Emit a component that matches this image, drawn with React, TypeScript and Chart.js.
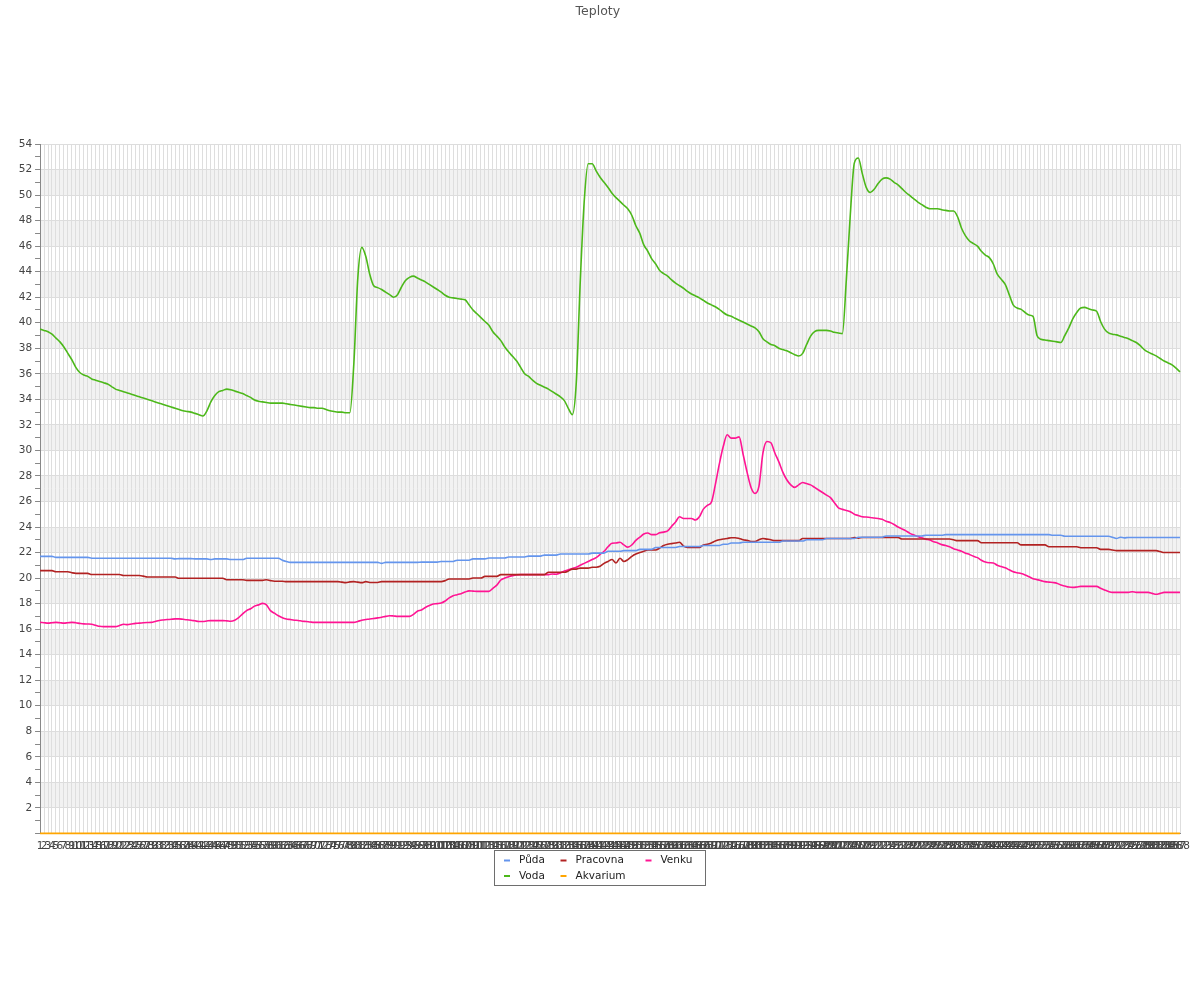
import React, { useEffect, useRef } from "react";
import { Chart, registerables } from "chart.js";

Chart.register(...registerables);

// ---------- DATA ----------
const TITLE = "Teploty";

const labels: string[] = Array.from({ length: 288 }, (_, i) => String(i + 1));

const seriesNames = ["Půda", "Voda", "Pracovna", "Akvarium", "Venku"];
const seriesColors = ["#6495ed", "#4cb81a", "#b22222", "#ffa500", "#ff1493"];

const puda: number[] = [
  21.7, 21.7, 21.7, 21.7, 21.62, 21.62, 21.62, 21.62, 21.62, 21.62,
  21.62, 21.62, 21.62, 21.55, 21.55, 21.55, 21.55, 21.55, 21.55, 21.55,
  21.55, 21.55, 21.55, 21.55, 21.55, 21.55, 21.55, 21.55, 21.55, 21.55,
  21.55, 21.55, 21.55, 21.55, 21.5, 21.52, 21.52, 21.52, 21.52, 21.5,
  21.5, 21.5, 21.5, 21.45, 21.5, 21.5, 21.5, 21.5, 21.45, 21.45,
  21.45, 21.45, 21.55, 21.55, 21.55, 21.55, 21.55, 21.55, 21.55, 21.55,
  21.55, 21.4, 21.3, 21.23, 21.23, 21.23, 21.23, 21.23, 21.23, 21.23,
  21.23, 21.23, 21.23, 21.23, 21.23, 21.23, 21.23, 21.23, 21.23, 21.23,
  21.23, 21.23, 21.23, 21.23, 21.23, 21.23, 21.15, 21.23, 21.23, 21.23,
  21.23, 21.23, 21.23, 21.23, 21.23, 21.23, 21.25, 21.25, 21.25, 21.25,
  21.25, 21.3, 21.3, 21.3, 21.3, 21.4, 21.4, 21.4, 21.4, 21.5,
  21.5, 21.5, 21.5, 21.57, 21.57, 21.57, 21.57, 21.57, 21.65, 21.65,
  21.65, 21.65, 21.65, 21.72, 21.72, 21.72, 21.72, 21.8, 21.8, 21.8,
  21.8, 21.88, 21.88, 21.88, 21.88, 21.88, 21.88, 21.88, 21.88, 21.95,
  21.95, 21.95, 21.95, 22.1, 22.1, 22.1, 22.1, 22.15, 22.15, 22.15,
  22.15, 22.25, 22.25, 22.25, 22.25, 22.4, 22.4, 22.4, 22.4, 22.4,
  22.4, 22.47, 22.47, 22.47, 22.47, 22.47, 22.47, 22.55, 22.55, 22.55,
  22.55, 22.55, 22.65, 22.65, 22.75, 22.75, 22.75, 22.8, 22.8, 22.8,
  22.8, 22.8, 22.8, 22.8, 22.8, 22.8, 22.8, 22.9, 22.9, 22.9,
  22.9, 22.9, 22.9, 23.0, 23.0, 23.0, 23.0, 23.0, 23.1, 23.1,
  23.1, 23.1, 23.1, 23.1, 23.1, 23.1, 23.2, 23.2, 23.2, 23.2,
  23.2, 23.2, 23.2, 23.3, 23.3, 23.3, 23.3, 23.3, 23.3, 23.3,
  23.3, 23.3, 23.3, 23.35, 23.35, 23.35, 23.35, 23.35, 23.4, 23.4,
  23.4, 23.4, 23.4, 23.4, 23.4, 23.4, 23.4, 23.4, 23.4, 23.4,
  23.4, 23.4, 23.4, 23.4, 23.4, 23.4, 23.4, 23.4, 23.4, 23.4,
  23.4, 23.4, 23.4, 23.4, 23.4, 23.35, 23.35, 23.35, 23.27, 23.27,
  23.27, 23.27, 23.27, 23.27, 23.27, 23.27, 23.27, 23.27, 23.27, 23.27,
  23.2, 23.1, 23.2, 23.15, 23.18, 23.18, 23.18, 23.18, 23.18, 23.18,
  23.18, 23.18, 23.18, 23.18, 23.18, 23.18, 23.18, 23.18,
];

const voda: number[] = [
  39.5, 39.4, 39.3, 39.1, 38.8, 38.5, 38.1, 37.6, 37.1, 36.5,
  36.1, 35.9, 35.8, 35.6, 35.5, 35.4, 35.3, 35.2, 35.0, 34.8,
  34.7, 34.6, 34.5, 34.4, 34.3, 34.2, 34.1, 34.0, 33.9, 33.8,
  33.7, 33.6, 33.5, 33.4, 33.3, 33.2, 33.1, 33.05, 33.0, 32.9,
  32.8, 32.7, 33.1, 33.8, 34.3, 34.6, 34.7, 34.8, 34.75, 34.65,
  34.55, 34.45, 34.3, 34.15, 33.95, 33.85, 33.8, 33.75, 33.7, 33.7,
  33.7, 33.7, 33.65, 33.6, 33.55, 33.5, 33.45, 33.4, 33.35, 33.35,
  33.3, 33.3, 33.2, 33.1, 33.05, 33.0, 33.0, 32.95, 32.95, 36.8,
  43.5, 45.9, 45.2, 43.8, 42.9, 42.75, 42.6, 42.4, 42.2, 42.0,
  42.2, 42.8, 43.3, 43.55, 43.65, 43.5, 43.35, 43.2, 43.0, 42.8,
  42.6, 42.4, 42.15, 42.0, 41.95, 41.9, 41.85, 41.8, 41.4, 41.0,
  40.7, 40.4, 40.1, 39.8, 39.3, 38.95, 38.6, 38.1, 37.7, 37.35,
  37.0, 36.5, 36.0, 35.8, 35.5, 35.25, 35.1, 34.95, 34.8, 34.6,
  34.4, 34.2, 33.9, 33.3, 32.8, 35.3, 43.2, 49.5, 52.45, 52.45,
  51.9, 51.4, 51.0, 50.6, 50.15, 49.8, 49.5, 49.2, 48.9, 48.4,
  47.6, 47.0, 46.1, 45.6, 45.0, 44.6, 44.1, 43.85, 43.66, 43.35,
  43.1, 42.9, 42.7, 42.45, 42.25, 42.1, 41.95, 41.75, 41.55, 41.4,
  41.25, 41.05, 40.8, 40.6, 40.5, 40.35, 40.2, 40.05, 39.9, 39.75,
  39.6, 39.3, 38.75, 38.5, 38.3, 38.2, 38.0, 37.9, 37.8, 37.65,
  37.5, 37.4, 37.6, 38.3, 38.95, 39.3, 39.4, 39.4, 39.4, 39.35,
  39.25, 39.2, 39.15, 43.4, 48.5, 52.5, 52.9, 51.7, 50.6, 50.2,
  50.45, 50.9, 51.25, 51.35, 51.25, 51.0, 50.8, 50.5, 50.2, 49.95,
  49.7, 49.45, 49.25, 49.05, 48.93, 48.93, 48.93, 48.85, 48.8, 48.75,
  48.75, 48.3, 47.4, 46.8, 46.4, 46.2, 46.0, 45.6, 45.3, 45.1,
  44.6, 43.8, 43.4, 43.0, 42.2, 41.4, 41.15, 41.05, 40.8, 40.6,
  40.5, 39.0, 38.7, 38.65, 38.6, 38.55, 38.5, 38.45, 39.0, 39.6,
  40.3, 40.8, 41.15, 41.2, 41.1, 41.0, 40.9, 40.1, 39.5, 39.2,
  39.1, 39.05, 38.95, 38.85, 38.75, 38.6, 38.45, 38.2, 37.9, 37.7,
  37.55, 37.4, 37.2, 37.0, 36.85, 36.7, 36.45, 36.15,
];

const pracovna: number[] = [
  20.58, 20.58, 20.58, 20.58, 20.5, 20.5, 20.5, 20.5, 20.42, 20.37,
  20.37, 20.37, 20.37, 20.28, 20.28, 20.28, 20.28, 20.28, 20.28, 20.28,
  20.28, 20.2, 20.2, 20.2, 20.2, 20.2, 20.15, 20.08, 20.08, 20.08,
  20.08, 20.08, 20.08, 20.08, 20.08, 19.98, 19.98, 19.98, 19.98, 19.98,
  19.98, 19.98, 19.98, 19.98, 19.98, 19.98, 19.98, 19.87, 19.87, 19.87,
  19.87, 19.87, 19.82, 19.82, 19.82, 19.82, 19.82, 19.87, 19.8, 19.75,
  19.75, 19.75, 19.72, 19.72, 19.72, 19.72, 19.72, 19.72, 19.72, 19.72,
  19.72, 19.72, 19.72, 19.72, 19.72, 19.72, 19.68, 19.64, 19.7, 19.72,
  19.68, 19.64, 19.72, 19.65, 19.65, 19.65, 19.72, 19.72, 19.72, 19.72,
  19.72, 19.72, 19.72, 19.72, 19.72, 19.72, 19.72, 19.72, 19.72, 19.72,
  19.72, 19.72, 19.8, 19.93, 19.93, 19.93, 19.93, 19.93, 19.93, 20.0,
  20.0, 20.0, 20.13, 20.13, 20.13, 20.13, 20.27, 20.27, 20.27, 20.27,
  20.27, 20.27, 20.27, 20.27, 20.27, 20.27, 20.27, 20.27, 20.45, 20.45,
  20.45, 20.45, 20.45, 20.55, 20.7, 20.7, 20.78, 20.78, 20.78, 20.85,
  20.85, 20.92, 21.15, 21.3, 21.45, 21.18, 21.55, 21.3, 21.45, 21.7,
  21.88, 22.0, 22.1, 22.2, 22.2, 22.2, 22.35, 22.55, 22.65, 22.7,
  22.75, 22.8, 22.5, 22.4, 22.4, 22.4, 22.4, 22.6, 22.65, 22.75,
  22.9, 23.0, 23.06, 23.1, 23.16, 23.16, 23.1, 23.0, 22.95, 22.87,
  22.87, 23.0, 23.1, 23.05, 23.0, 22.93, 22.93, 22.93, 22.93, 22.93,
  22.93, 22.93, 23.1, 23.1, 23.1, 23.1, 23.1, 23.1, 23.1, 23.1,
  23.1, 23.1, 23.1, 23.1, 23.1, 23.18, 23.13, 23.18, 23.18, 23.18,
  23.18, 23.18, 23.18, 23.18, 23.18, 23.18, 23.18, 23.06, 23.06, 23.06,
  23.06, 23.06, 23.06, 23.06, 23.06, 23.06, 23.06, 23.06, 23.06, 23.06,
  23.0, 22.93, 22.93, 22.93, 22.93, 22.93, 22.93, 22.77, 22.77, 22.77,
  22.77, 22.77, 22.77, 22.77, 22.77, 22.77, 22.77, 22.6, 22.6, 22.6,
  22.6, 22.6, 22.6, 22.6, 22.45, 22.45, 22.45, 22.45, 22.45, 22.45,
  22.45, 22.45, 22.38, 22.38, 22.38, 22.38, 22.38, 22.25, 22.25, 22.25,
  22.2, 22.15, 22.15, 22.15, 22.15, 22.15, 22.15, 22.15, 22.15, 22.15,
  22.15, 22.15, 22.08, 22.0, 22.0, 22.0, 22.0, 22.0,
];

const akvarium: number[] = [
  0, 0, 0, 0, 0, 0, 0, 0, 0, 0, 0, 0, 0, 0, 0, 0, 0, 0, 0, 0, 0, 0, 0, 0,
  0, 0, 0, 0, 0, 0, 0, 0, 0, 0, 0, 0, 0, 0, 0, 0, 0, 0, 0, 0, 0, 0, 0, 0,
  0, 0, 0, 0, 0, 0, 0, 0, 0, 0, 0, 0, 0, 0, 0, 0, 0, 0, 0, 0, 0, 0, 0, 0,
  0, 0, 0, 0, 0, 0, 0, 0, 0, 0, 0, 0, 0, 0, 0, 0, 0, 0, 0, 0, 0, 0, 0, 0,
  0, 0, 0, 0, 0, 0, 0, 0, 0, 0, 0, 0, 0, 0, 0, 0, 0, 0, 0, 0, 0, 0, 0, 0,
  0, 0, 0, 0, 0, 0, 0, 0, 0, 0, 0, 0, 0, 0, 0, 0, 0, 0, 0, 0, 0, 0, 0, 0,
  0, 0, 0, 0, 0, 0, 0, 0, 0, 0, 0, 0, 0, 0, 0, 0, 0, 0, 0, 0, 0, 0, 0, 0,
  0, 0, 0, 0, 0, 0, 0, 0, 0, 0, 0, 0, 0, 0, 0, 0, 0, 0, 0, 0, 0, 0, 0, 0,
  0, 0, 0, 0, 0, 0, 0, 0, 0, 0, 0, 0, 0, 0, 0, 0, 0, 0, 0, 0, 0, 0, 0, 0,
  0, 0, 0, 0, 0, 0, 0, 0, 0, 0, 0, 0, 0, 0, 0, 0, 0, 0, 0, 0, 0, 0, 0, 0,
  0, 0, 0, 0, 0, 0, 0, 0, 0, 0, 0, 0, 0, 0, 0, 0, 0, 0, 0, 0, 0, 0, 0, 0,
  0, 0, 0, 0, 0, 0, 0, 0, 0, 0, 0, 0, 0, 0, 0, 0, 0, 0, 0, 0, 0, 0, 0, 0,
];

const venku: number[] = [
  16.53, 16.5, 16.47, 16.5, 16.53, 16.5, 16.47, 16.5, 16.53, 16.5,
  16.45, 16.41, 16.4, 16.38, 16.3, 16.22, 16.2, 16.2, 16.2, 16.2,
  16.28, 16.38, 16.35, 16.4, 16.45, 16.47, 16.5, 16.52, 16.53, 16.6,
  16.68, 16.72, 16.75, 16.77, 16.8, 16.8, 16.77, 16.74, 16.7, 16.65,
  16.6, 16.6, 16.64, 16.67, 16.67, 16.67, 16.67, 16.65, 16.62, 16.7,
  16.9, 17.2, 17.45, 17.6, 17.8, 17.9, 18.02, 17.9, 17.45, 17.25,
  17.05, 16.9, 16.8, 16.75, 16.7, 16.68, 16.62, 16.6, 16.56, 16.53,
  16.53, 16.53, 16.53, 16.53, 16.53, 16.53, 16.53, 16.53, 16.53, 16.53,
  16.6, 16.7, 16.75, 16.8, 16.83, 16.88, 16.93, 17.0, 17.05, 17.03,
  17.0, 17.0, 17.0, 17.0, 17.15, 17.4, 17.5, 17.7, 17.85, 17.97,
  18.0, 18.05, 18.2, 18.45, 18.62, 18.7, 18.78, 18.9, 19.0, 18.98,
  18.96, 18.96, 18.96, 18.96, 19.2, 19.45, 19.85, 20.0, 20.1, 20.19,
  20.25, 20.27, 20.27, 20.27, 20.27, 20.27, 20.27, 20.27, 20.27, 20.32,
  20.3, 20.4, 20.55, 20.65, 20.75, 20.85, 21.0, 21.15, 21.3, 21.45,
  21.6, 21.85, 22.1, 22.45, 22.73, 22.75, 22.8, 22.6, 22.42, 22.6,
  22.95, 23.2, 23.45, 23.53, 23.4, 23.4, 23.55, 23.6, 23.7, 24.05,
  24.4, 24.8, 24.67, 24.67, 24.67, 24.55, 24.8, 25.4, 25.7, 25.93,
  27.3, 28.9, 30.3, 31.22, 30.96, 30.96, 31.06, 29.7, 28.3, 27.1,
  26.63, 27.2, 29.8, 30.7, 30.6, 29.8, 29.1, 28.3, 27.7, 27.3,
  27.1, 27.3, 27.49, 27.4, 27.3, 27.1, 26.9, 26.7, 26.5, 26.3,
  25.9, 25.5, 25.38, 25.3, 25.2, 25.0, 24.9, 24.8, 24.78, 24.75,
  24.7, 24.67, 24.6, 24.45, 24.35, 24.2, 24.0, 23.85, 23.7, 23.5,
  23.38, 23.25, 23.15, 23.05, 22.98, 22.85, 22.75, 22.62, 22.55, 22.45,
  22.3, 22.2, 22.1, 21.95, 21.85, 21.7, 21.6, 21.4, 21.25, 21.2,
  21.18, 21.0, 20.9, 20.8, 20.65, 20.5, 20.42, 20.35, 20.24, 20.1,
  19.95, 19.88, 19.8, 19.72, 19.68, 19.65, 19.6, 19.45, 19.38, 19.3,
  19.27, 19.3, 19.35, 19.35, 19.35, 19.35, 19.35, 19.2, 19.07, 18.95,
  18.88, 18.88, 18.88, 18.88, 18.88, 18.93, 18.88, 18.88, 18.88, 18.88,
  18.8, 18.73, 18.8, 18.88, 18.88, 18.88, 18.88, 18.88,
];

const seriesValues = [puda, voda, pracovna, akvarium, venku];

const Y_MIN = 0;
const Y_MAX = 54;

// ---------- STYLE ----------
const FONT = "'DejaVu Sans', sans-serif";

const bandPlugin = {
  id: "bands",
  beforeDraw(chart: any) {
    const { ctx, chartArea: a, scales } = chart;
    const y = scales.y;
    ctx.save();
    ctx.fillStyle = "#f2f2f2";
    for (let lo = 2; lo < Y_MAX; lo += 4) {
      const top = y.getPixelForValue(lo + 2);
      const bot = y.getPixelForValue(lo);
      ctx.fillRect(a.left, top, a.right - a.left, bot - top);
    }
    ctx.restore();
  },
};

const legendPlugin = {
  id: "boxLegend",
  afterDraw(chart: any) {
    const { ctx, chartArea: a } = chart;
    const boxW = 211;
    const boxH = 35;
    const left = Math.round(chart.width / 2 - boxW / 2) - 0.5;
    const top = Math.round(a.bottom + 18) - 0.5;
    ctx.save();
    ctx.strokeStyle = "#6e6e6e";
    ctx.lineWidth = 1;
    ctx.strokeRect(left, top, boxW, boxH);
    const colX = [9.5, 66, 151];
    const rowY = [10, 25.5];
    const layout = [
      [0, 0, 0],
      [1, 0, 1],
      [2, 1, 0],
      [3, 1, 1],
      [4, 2, 0],
    ];
    ctx.font = `10.5px ${FONT}`;
    ctx.textBaseline = "middle";
    ctx.textAlign = "left";
    for (const [di, c, r] of layout) {
      const x = left + colX[c];
      const yy = top + rowY[r];
      ctx.strokeStyle = seriesColors[di];
      ctx.lineWidth = 2;
      ctx.beginPath();
      ctx.moveTo(x, yy);
      ctx.lineTo(x + 6, yy);
      ctx.stroke();
      ctx.fillStyle = "#222";
      ctx.fillText(seriesNames[di], x + 15, yy);
    }
    ctx.restore();
  },
};

export default function App() {
  const ref = useRef<HTMLCanvasElement | null>(null);

  useEffect(() => {
    document.body.style.margin = "0";
    const canvas = ref.current;
    if (!canvas) return;
    const chart = new Chart(canvas, {
      type: "line",
      data: {
        labels,
        datasets: seriesNames.map((name, i) => ({
          label: name,
          data: seriesValues[i],
          borderColor: seriesColors[i],
          backgroundColor: seriesColors[i],
          borderWidth: 1.6,
          pointRadius: 0,
          pointHoverRadius: 0,
          cubicInterpolationMode: "monotone" as const,
          fill: false,
          clip: 3,
        })),
      },
      options: {
        responsive: false,
        animation: false,
        events: [],
        layout: { padding: { left: 15.7, right: 20, top: 0, bottom: 140 } },
        font: { family: FONT, size: 10.5 },
        plugins: {
          legend: { display: false },
          tooltip: { enabled: false },
          title: {
            display: true,
            text: TITLE,
            color: "#555",
            font: { family: FONT, size: 12.5, weight: "normal" },
            padding: { top: 4, bottom: 125 },
          },
        },
        scales: {
          x: {
            offset: false,
            ticks: {
              autoSkip: false,
              maxRotation: 0,
              minRotation: 0,
              color: "#444",
              padding: 7,
              font: { family: FONT, size: 10.5 },
            },
            grid: { color: "#dedede", drawTicks: false, offset: false },
            border: { color: "#888" },
          },
          y: {
            min: Y_MIN,
            max: Y_MAX,
            ticks: {
              stepSize: 1,
              autoSkip: false,
              color: "#444",
              padding: 3,
              font: { family: FONT, size: 10.5 },
              callback: (v: any) => (Number(v) % 2 === 0 && Number(v) !== 0 ? String(v) : ""),
            },
            grid: {
              color: (c: any) =>
                c.tick && c.tick.value % 2 === 0 ? "#dddddd" : "rgba(0,0,0,0)",
              tickColor: "#888",
              tickLength: 5,
            },
            border: { color: "#888" },
          },
        },
      },
      plugins: [bandPlugin, legendPlugin],
    });
    return () => chart.destroy();
  }, []);

  return (
    <div style={{ width: 1200, height: 1000, background: "#fff" }}>
      <canvas ref={ref} width={1200} height={1000} style={{ display: "block" }} />
    </div>
  );
}
